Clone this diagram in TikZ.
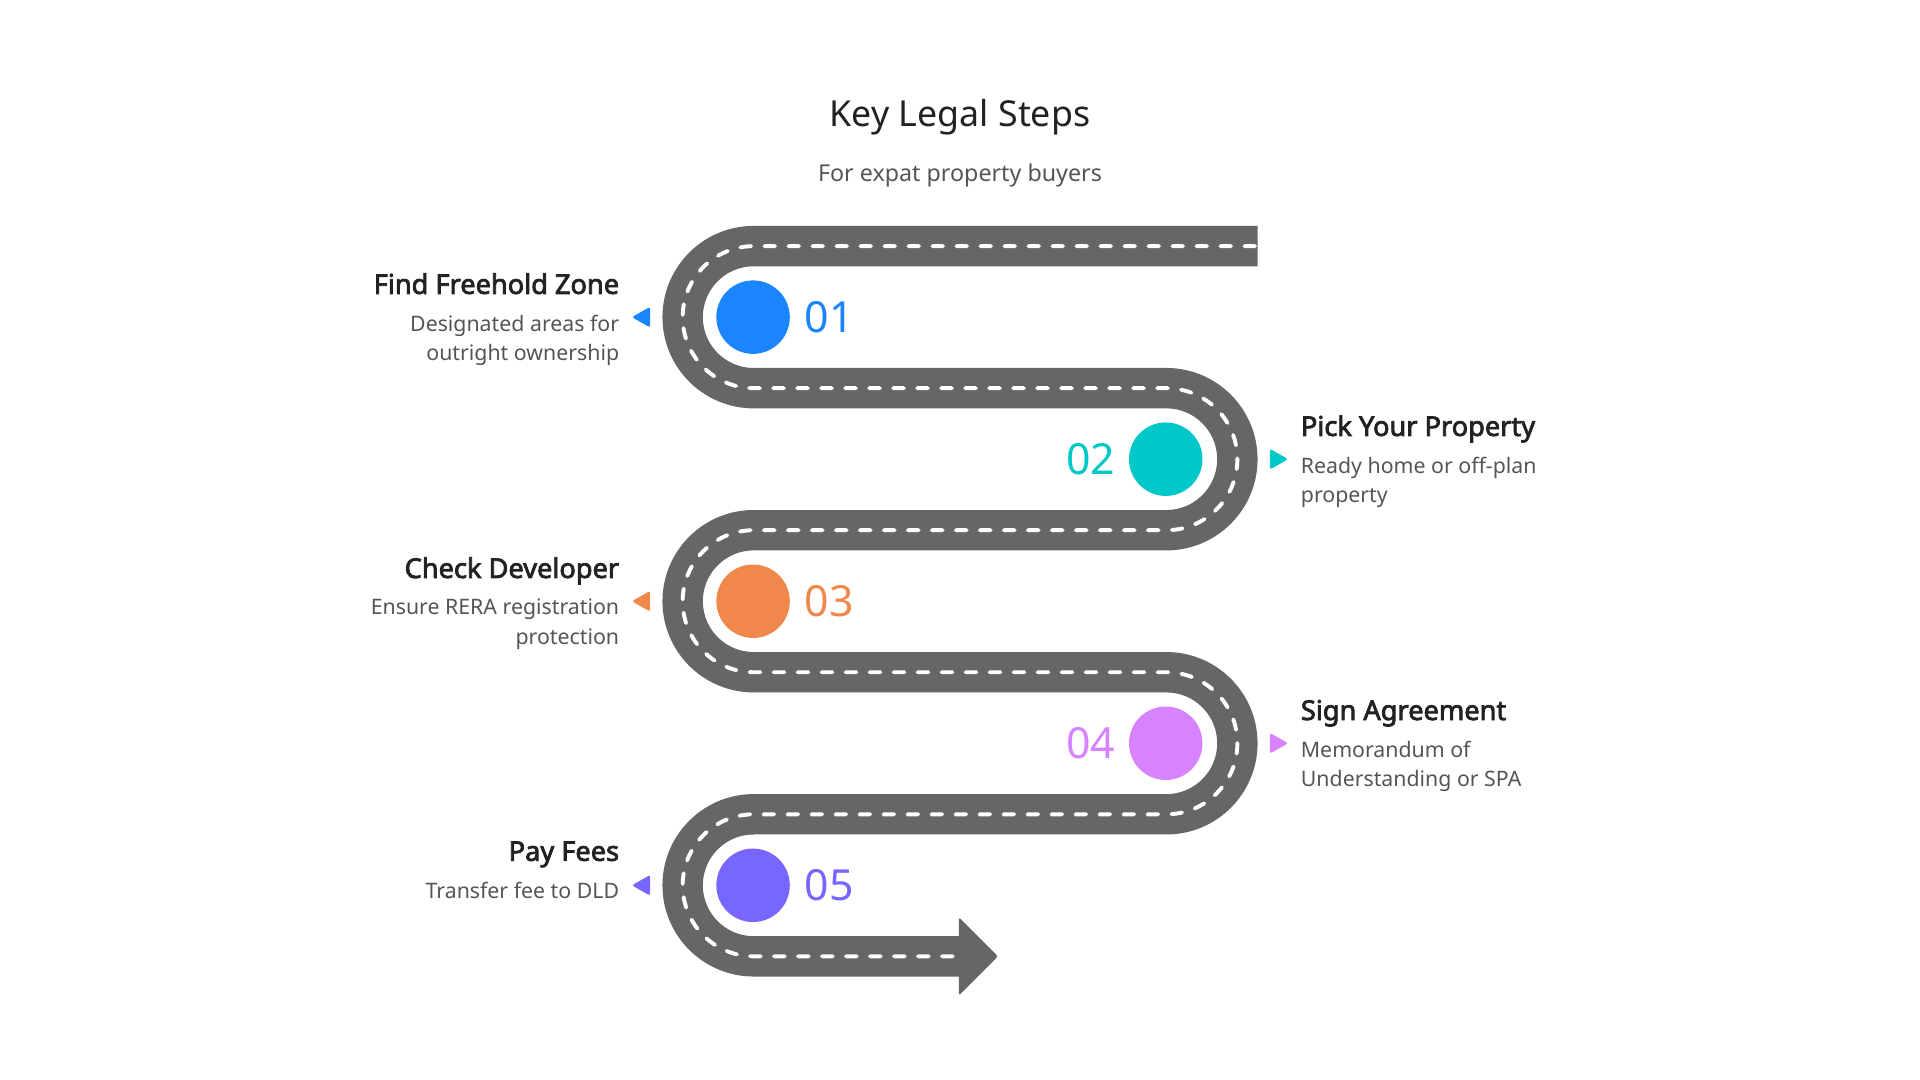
\documentclass[tikz,border=0pt]{standalone}
\usepackage{fontspec}
\setmainfont{Noto Sans}[AutoFakeBold=2.8]
\usepackage{xcolor}
\usepackage{tikz}

\definecolor{road}{HTML}{666666}
\definecolor{ink}{HTML}{222222}
\definecolor{grey}{HTML}{555555}
\definecolor{stepA}{HTML}{1A85FF}
\definecolor{stepB}{HTML}{00C8C8}
\definecolor{stepC}{HTML}{F0884B}
\definecolor{stepD}{HTML}{D783FF}
\definecolor{stepE}{HTML}{7766FF}

\tikzset{
  dot/.style={circle,minimum size=30pt,inner sep=0pt},
  num/.style={font=\fontsize{17.5}{20}\selectfont,inner sep=0pt},
  head/.style={font=\fontsize{11.1}{13}\selectfont\bfseries,text=ink,inner sep=0pt},
  desc/.style={font=\fontsize{8.7}{12}\selectfont,text=grey,inner sep=0pt},
}

\begin{document}
\begin{tikzpicture}[x=0.5pt,y=-0.5pt]
\useasboundingbox (0,0) rectangle (1568,882);
\node (title) at (784,103) [anchor=base,font=\fontsize{14.6}{17}\selectfont,text=ink] {Key Legal Steps};
\node (sub) at (784,148) [anchor=base,font=\fontsize{9.5}{12}\selectfont,text=grey] {For expat property buyers};
% road
\draw[road,line width=16.5pt,rounded corners=29pt] (1027,201) -- (557.5,201) -- (557.5,317) -- (1010.5,317) -- (1010.5,433) -- (557.5,433) -- (557.5,549) -- (1010.5,549) -- (1010.5,665) -- (557.5,665) -- (557.5,781) -- (784,781);
\fill[road,rounded corners=1pt] (783,749) -- (815,781) -- (783,813) -- cycle;
\draw[white,line width=1.6pt,line cap=round,dash pattern=on 4.4pt off 5.4pt,rounded corners=29pt] (1025,201) -- (557.5,201) -- (557.5,317) -- (1010.5,317) -- (1010.5,433) -- (557.5,433) -- (557.5,549) -- (1010.5,549) -- (1010.5,665) -- (557.5,665) -- (557.5,781) -- (784,781);
% steps
\node (c1) at (615,259) [dot,fill=stepA] {};
\node (c2) at (952,375) [dot,fill=stepB] {};
\node (c3) at (615,491) [dot,fill=stepC] {};
\node (c4) at (952,607) [dot,fill=stepD] {};
\node (c5) at (615,723) [dot,fill=stepE] {};
\node (n1) at (657,259) [num,anchor=west,text=stepA] {01};
\node (n2) at (911,375) [num,anchor=east,text=stepB] {02};
\node (n3) at (657,491) [num,anchor=west,text=stepC] {03};
\node (n4) at (911,607) [num,anchor=east,text=stepD] {04};
\node (n5) at (657,723) [num,anchor=west,text=stepE] {05};
% markers
\fill[stepA,rounded corners=1pt] (531,250.5) -- (516,259) -- (531,267.5) -- cycle;
\fill[stepB,rounded corners=1pt] (1037,366.5) -- (1052,375) -- (1037,383.5) -- cycle;
\fill[stepC,rounded corners=1pt] (531,482.5) -- (516,491) -- (531,499.5) -- cycle;
\fill[stepD,rounded corners=1pt] (1037,598.5) -- (1052,607) -- (1037,615.5) -- cycle;
\fill[stepE,rounded corners=1pt] (531,714.5) -- (516,723) -- (531,731.5) -- cycle;
% labels
\node (h1) at (506,240) [head,anchor=base east] {Find Freehold Zone};
\node (d1) at (506,257) [desc,anchor=north east,align=right] {Designated areas for\\outright ownership};
\node (h2) at (1062,356) [head,anchor=base west] {Pick Your Property};
\node (d2) at (1062,373) [desc,anchor=north west,align=left] {Ready home or off-plan\\property};
\node (h3) at (506,472) [head,anchor=base east] {Check Developer};
\node (d3) at (506,489) [desc,anchor=north east,align=right] {Ensure RERA registration\\protection};
\node (h4) at (1062,588) [head,anchor=base west] {Sign Agreement};
\node (d4) at (1062,605) [desc,anchor=north west,align=left] {Memorandum of\\Understanding or SPA};
\node (h5) at (506,703) [head,anchor=base east] {Pay Fees};
\node (d5) at (506,720) [desc,anchor=north east,align=right] {Transfer fee to DLD};
\end{tikzpicture}
\end{document}
